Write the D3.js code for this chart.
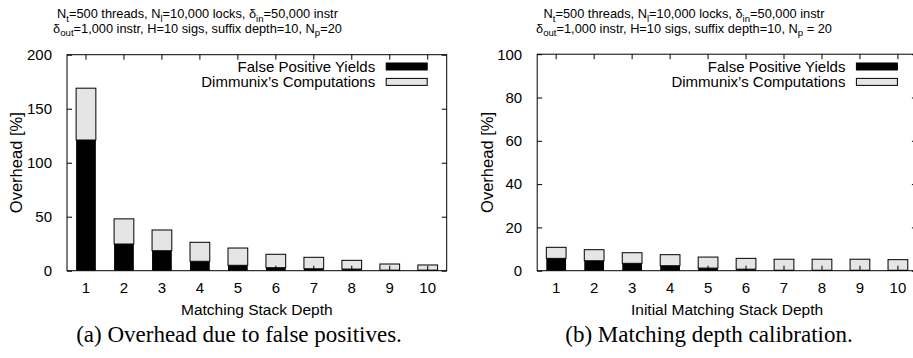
<!DOCTYPE html>
<html>
<head>
<meta charset="utf-8">
<script src="https://cdn.jsdelivr.net/npm/d3@7/dist/d3.min.js"></script>
<style>
  html, body { margin: 0; padding: 0; background: #fff; }
  svg { display: block; }
  text { font-family: "Liberation Sans", Arial, Helvetica, sans-serif; fill: #000; }
  .cap { font-family: "Liberation Serif", "Times New Roman", serif; }
</style>
</head>
<body>
<svg id="chart" width="913" height="358"></svg>
<script>
// ---------- data ----------
const categories = [1, 2, 3, 4, 5, 6, 7, 8, 9, 10];

// panel (a): Overhead due to false positives
const falsePosA = [121, 24.7, 18.5, 8.7, 5.0, 2.8, 1.8, 1.5, 0.5, 0.5];
const computeA  = [48, 23.3, 19.2, 17.6, 16.0, 12.4, 10.6, 8.1, 5.7, 4.8];
const yTicksA   = [0, 50, 100, 150, 200];

// panel (b): Matching depth calibration
const falsePosB = [5.7, 4.6, 3.4, 2.3, 1.2, 0.7, 0.2, 0.2, 0.2, 0.2];
const computeB  = [5.1, 5.1, 4.9, 5.1, 5.1, 5.0, 5.1, 5.1, 5.1, 4.9];
const yTicksB   = [0, 20, 40, 60, 80, 100];

const seriesNames = ["False Positive Yields", "Dimmunix\u2019s Computations"];
const xTitles = ["Matching Stack Depth", "Initial Matching Stack Depth"];
const captions = ["(a) Overhead due to false positives.", "(b) Matching depth calibration."];
const yTitle = "Overhead [%]";

// ---------- drawing ----------
const svg = d3.select("#chart");
const colors = ["#000000", "#e5e5e5"];

const panels = [
  { fp: falsePosA, cp: computeA, ticks: yTicksA, left: 67, right: 446.7, top: 54.7, bottom: 270.7,
    titleX: 197.5, np: "=20", capX: 239, xTitle: xTitles[0], caption: captions[0], yTitleX: 16 },
  { fp: falsePosB, cp: computeB, ticks: yTicksB, left: 537.2, right: 916.9, top: 54.2, bottom: 270.7,
    titleX: 684, np: " = 20", capX: 709, xTitle: xTitles[1], caption: captions[1], yTitleX: 487.5 }
];

panels.forEach(p => {
  const g = svg.append("g");
  const x = d3.scaleBand().domain(categories).range([p.left, p.right])
    .paddingInner(0.48).paddingOuter(0.24);
  const yMax = p.ticks[p.ticks.length - 1];
  const y = d3.scaleLinear().domain([0, yMax]).range([p.bottom, p.top]);

  // title (two lines with subscripts)
  const sub = (t, s) => { t.append("tspan").attr("dy", 3.2).style("font-size", "9.6px").text(s);
                          return t.append("tspan").attr("dy", -3.2); };
  const t1 = g.append("text").attr("x", p.titleX).attr("y", 18.3)
    .attr("text-anchor", "middle").style("font-size", "12.8px");
  t1.append("tspan").text("N"); sub(t1, "t").text("=500 threads, N");
  sub(t1, "l").text("=10,000 locks, \u03b4"); sub(t1, "in").text("=50,000 instr");
  const t2 = g.append("text").attr("x", p.titleX).attr("y", 32.6)
    .attr("text-anchor", "middle").style("font-size", "12.8px");
  t2.append("tspan").text("\u03b4"); sub(t2, "out").text("=1,000 instr, H=10 sigs, suffix depth=10, N");
  sub(t2, "p").text(p.np);

  // stacked bars
  const stackData = categories.map((c, i) => ({ cat: c, fp: p.fp[i], cp: p.cp[i] }));
  const stack = d3.stack().keys(["fp", "cp"])(stackData);
  stack.forEach((layer, li) => {
    g.append("g").selectAll("rect").data(layer).join("rect")
      .attr("x", d => x(d.data.cat))
      .attr("width", x.bandwidth())
      .attr("y", d => y(d[1]))
      .attr("height", d => y(d[0]) - y(d[1]))
      .attr("fill", colors[li])
      .attr("stroke", li === 1 ? "#000" : "none")
      .attr("stroke-width", 1);
  });

  // frame
  g.append("rect").attr("x", p.left).attr("y", p.top)
    .attr("width", p.right - p.left).attr("height", p.bottom - p.top)
    .attr("fill", "none").attr("stroke", "#000").attr("stroke-width", 1);

  // y axis (ticks inward, mirrored on right)
  const yAxisL = d3.axisLeft(y).tickValues(p.ticks).tickSizeInner(-5).tickSizeOuter(0).tickPadding(15);
  const ga = g.append("g").attr("transform", `translate(${p.left},0)`).call(yAxisL);
  ga.select(".domain").remove();
  ga.selectAll("text").style("font-size", "15px").style("font-family", "Liberation Sans, Arial, sans-serif");
  const yAxisR = d3.axisRight(y).tickValues(p.ticks).tickSizeInner(-5).tickSizeOuter(0).tickFormat("");
  const gr = g.append("g").attr("transform", `translate(${p.right},0)`).call(yAxisR);
  gr.select(".domain").remove();

  // x axis (ticks inward at top and bottom)
  const xAxisB = d3.axisBottom(x).tickSizeInner(-5).tickSizeOuter(0).tickPadding(12);
  const gb = g.append("g").attr("transform", `translate(0,${p.bottom})`).call(xAxisB);
  gb.select(".domain").remove();
  gb.selectAll("text").style("font-size", "15px").style("font-family", "Liberation Sans, Arial, sans-serif");
  const xAxisT = d3.axisTop(x).tickSizeInner(-5).tickSizeOuter(0).tickFormat("");
  const gt = g.append("g").attr("transform", `translate(0,${p.top})`).call(xAxisT);
  gt.select(".domain").remove();

  // axis titles
  g.append("text").attr("x", (p.left + p.right) / 2).attr("y", 315)
    .attr("text-anchor", "middle").style("font-size", "15.5px").text(p.xTitle);
  g.append("text").attr("transform", `translate(${p.yTitleX + 5.5},${(p.top + p.bottom) / 2}) rotate(-90)`)
    .attr("text-anchor", "middle").style("font-size", "16.5px").text(yTitle);

  // legend
  const legRight = p.right - 19.5;
  const swW = 41;
  seriesNames.forEach((name, i) => {
    const cy = 66.5 + i * 15.4;
    g.append("rect").attr("x", legRight - swW).attr("y", cy - 3.5).attr("width", swW).attr("height", 7)
      .attr("fill", colors[i]).attr("stroke", "#000").attr("stroke-width", 1);
    g.append("text").attr("x", legRight - swW - 11).attr("y", cy + 5)
      .attr("text-anchor", "end").style("font-size", "15px").text(name);
  });

  // caption
  g.append("text").attr("class", "cap").attr("x", p.capX).attr("y", 342)
    .attr("text-anchor", "middle").style("font-size", "23px").text(p.caption);
});
</script>
</body>
</html>
